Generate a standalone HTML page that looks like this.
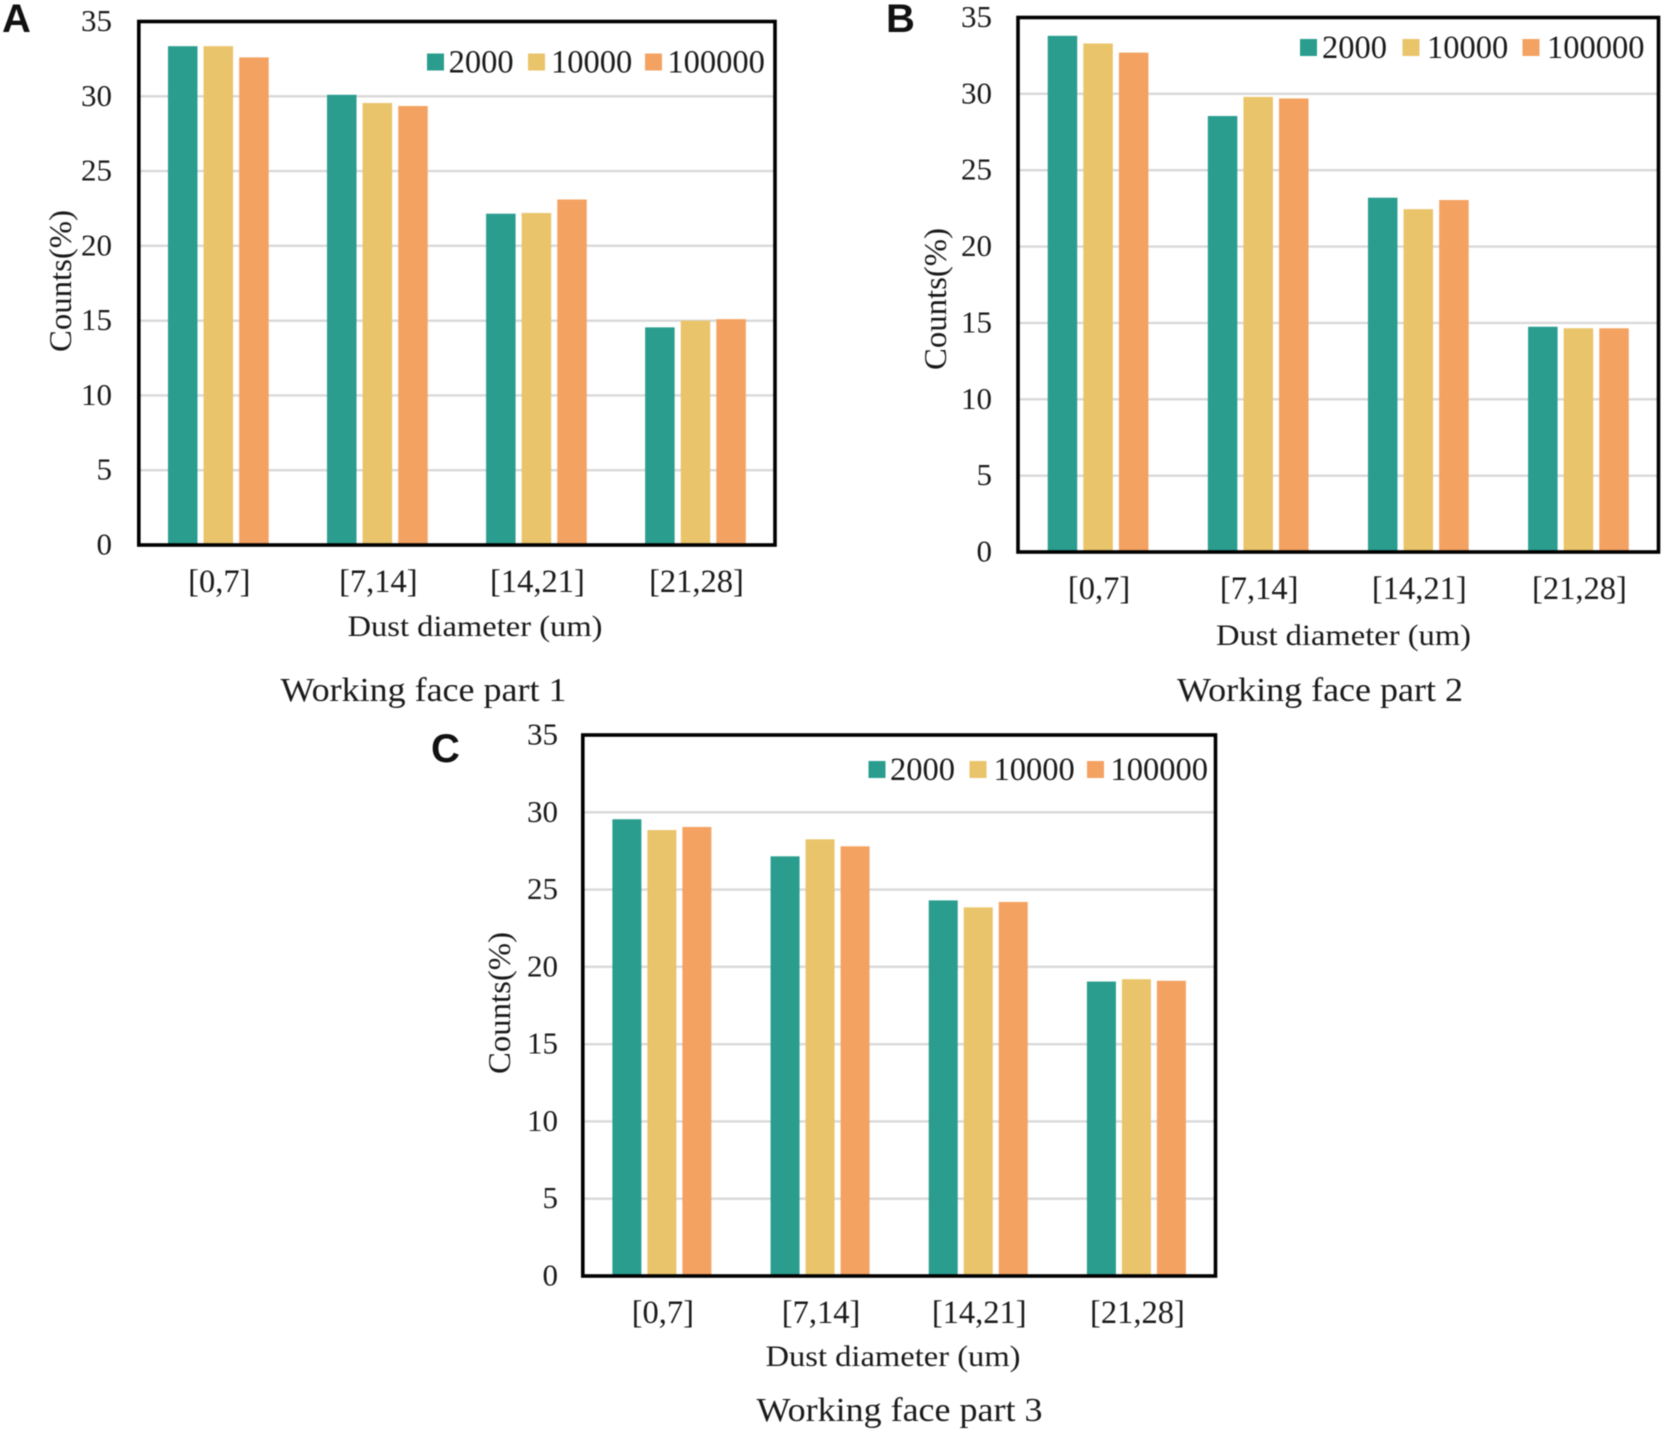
<!DOCTYPE html>
<html lang="en">
<head>
<meta charset="utf-8">
<title>Dust diameter distribution by working face part</title>
<style>
html,body{margin:0;padding:0;background:#fff;width:1664px;height:1433px;overflow:hidden}
svg{display:block;filter:blur(0.45px)}
text{font-family:"Liberation Serif",serif;fill:#1a1a1a}
text.panel-letter{font-family:"Liberation Sans",sans-serif;font-weight:700;fill:#111}
</style>
</head>
<body>
<svg id="figure" xmlns="http://www.w3.org/2000/svg" width="1664" height="1433" viewBox="0 0 1664 1433"></svg>
<script>
const categories = ["[0,7]", "[7,14]", "[14,21]", "[21,28]"];
const seriesNames = ["2000", "10000", "100000"];
const yTicks = [0, 5, 10, 15, 20, 25, 30, 35];
const panelATitle = "Working face part 1";
const panelBTitle = "Working face part 2";
const panelCTitle = "Working face part 3";
const xAxisLabel = "Dust diameter (um)";
const yAxisLabel = "Counts(%)";
const panelA2000 = [33.35, 30.1, 22.15, 14.55];
const panelA10000 = [33.35, 29.55, 22.2, 15.0];
const panelA100000 = [32.6, 29.35, 23.1, 15.1];
const panelB2000 = [33.8, 28.55, 23.2, 14.75];
const panelB10000 = [33.3, 29.8, 22.45, 14.65];
const panelB100000 = [32.7, 29.7, 23.05, 14.65];
const panelC2000 = [29.55, 27.15, 24.3, 19.05];
const panelC10000 = [28.85, 28.25, 23.85, 19.2];
const panelC100000 = [29.05, 27.8, 24.2, 19.1];

const seriesColors = ["#2a9d8f", "#e9c46a", "#f4a261"];
const svg = document.getElementById("figure");
const NS = "http://www.w3.org/2000/svg";

function make(parent, tag, attrs, content) {
  const el = document.createElementNS(NS, tag);
  for (const k in attrs) el.setAttribute(k, attrs[k]);
  if (content !== undefined) el.textContent = content;
  parent.appendChild(el);
  return el;
}

function drawPanel(p) {
  const yMax = yTicks[yTicks.length - 1];
  const yScale = v => p.bottom - (v / yMax) * (p.bottom - p.top);
  const band = (p.right - p.left) / categories.length;
  const xCenter = i => p.left + band * (i + 0.5);
  const barW = p.barW, barStep = p.barStep;

  const g = make(svg, "g", {});
  
  

  const letter = make(g, "text", {"class": "panel-letter", x: p.letterX, y: p.letterY, "font-size": 40}, p.letter);
  
  

  yTicks.forEach(t => {
    if (t > 0 && t < yMax) {
      const gl = make(g, "line", {x1: p.left, x2: p.right, y1: yScale(t), y2: yScale(t), stroke: "#d9d9d9", "stroke-width": 2.4});
      
      
    }
    const lab = make(g, "text", {x: p.tickX, y: yScale(t) + 9.5, "text-anchor": "end", "font-size": 31}, String(t));
    
    
  });

  p.series.forEach((vals, s) => {
    vals.forEach((v, i) => {
      const x = xCenter(i) + (s - 1) * barStep - barW / 2;
      const bar = make(g, "rect", {x: x, y: yScale(v), width: barW, height: p.bottom - yScale(v), fill: seriesColors[s]});
      
      
    });
  });

  const frame = make(g, "rect", {x: p.left, y: p.top, width: p.right - p.left, height: p.bottom - p.top, fill: "none", stroke: "#000", "stroke-width": 3.6});
  
  

  categories.forEach((c, i) => {
    const lab = make(g, "text", {x: xCenter(i) + 1, y: p.xTickY + 10, "text-anchor": "middle", "font-size": 32.5}, c);
    
    
  });

  const xt = make(g, "text", {x: p.xLabelX, y: p.xLabelY + 10, "text-anchor": "middle", "font-size": 29.5, textLength: 255, lengthAdjust: "spacingAndGlyphs"}, xAxisLabel);
  
  

  const yt = make(g, "text", {transform: "translate(" + p.yLabelX + "," + p.yLabelY + ") rotate(-90)", "text-anchor": "middle", "font-size": 32, textLength: 142, lengthAdjust: "spacingAndGlyphs"}, yAxisLabel);
  
  

  const title = make(g, "text", {x: p.titleX, y: p.titleY + 10, "text-anchor": "middle", "font-size": 33.5, textLength: 286, lengthAdjust: "spacingAndGlyphs"}, p.title);
  
  

  seriesNames.forEach((n, s) => {
    const sw = make(g, "rect", {x: p.legendSwatch[s], y: p.legendY - 8.5, width: 17, height: 17, fill: seriesColors[s]});
    
    
    const lt = make(g, "text", {x: p.legendText[s], y: p.legendY + 10.5, "font-size": 32.5}, n);
    
    
  });
}

drawPanel({
  id: "a", letter: "A", letterX: 2, letterY: 32, title: panelATitle, barW: 29.5, barStep: 35.6,
  left: 138.8, right: 775, top: 21.5, bottom: 545,
  tickX: 112, xTickY: 582, xLabelX: 475, xLabelY: 626, yLabelX: 71, yLabelY: 281, titleX: 423.5, titleY: 691,
  legendY: 62, legendSwatch: [427, 528, 645], legendText: [448.6, 551, 667.4],
  series: [panelA2000, panelA10000, panelA100000]
});
drawPanel({
  id: "b", letter: "B", letterX: 886, letterY: 32, title: panelBTitle, barW: 29.5, barStep: 35.6,
  left: 1018, right: 1658.5, top: 17.5, bottom: 552,
  tickX: 992, xTickY: 589, xLabelX: 1343.5, xLabelY: 635, yLabelX: 946, yLabelY: 299, titleX: 1320, titleY: 691,
  legendY: 47.5, legendSwatch: [1300, 1402.5, 1522.5], legendText: [1322, 1427, 1547],
  series: [panelB2000, panelB10000, panelB100000]
});
drawPanel({
  id: "c", letter: "C", letterX: 431, letterY: 762, title: panelCTitle, barW: 29, barStep: 35,
  left: 582.8, right: 1215.5, top: 735, bottom: 1276,
  tickX: 558, xTickY: 1313, xLabelX: 893, xLabelY: 1356, yLabelX: 510, yLabelY: 1003, titleX: 899.5, titleY: 1411,
  legendY: 769.5, legendSwatch: [868.5, 969.5, 1087], legendText: [890, 993.5, 1110.5],
  series: [panelC2000, panelC10000, panelC100000]
});
</script>
</body>
</html>
